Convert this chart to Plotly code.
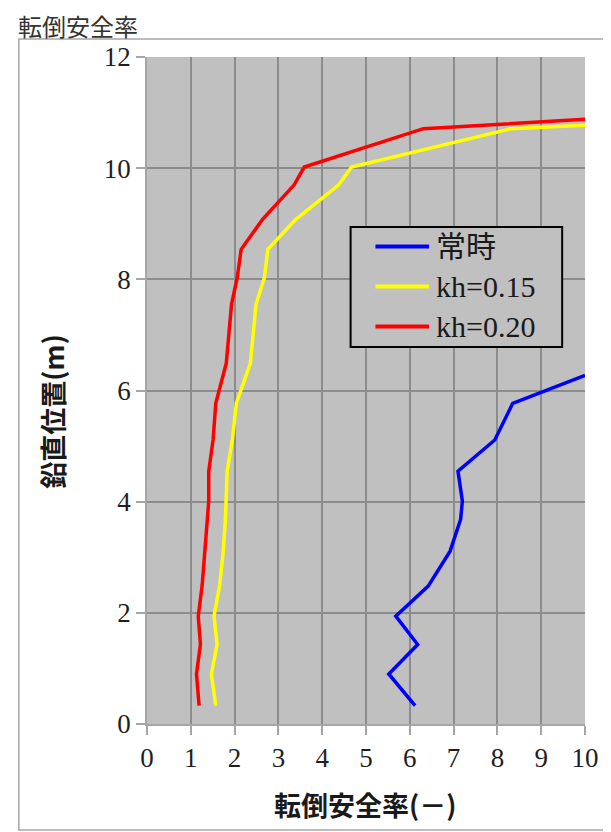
import plotly.graph_objects as go

# 鉛直位置 (m)
depth = [0.33, 0.9, 1.43, 1.94, 2.5, 3.1, 3.68, 4.01, 4.55, 5.12, 5.77, 6.49, 7.55, 8.03, 8.54, 9.08, 9.70, 10.02, 10.71, 10.85]

normal_depth = [0.33, 0.9, 1.43, 1.94, 2.48, 3.11, 3.68, 4.01, 4.55, 5.11, 5.77, 6.27]
normal_fs = [6.12, 5.52, 6.18, 5.68, 6.42, 6.92, 7.16, 7.20, 7.10, 7.94, 8.35, 10.0]

kh015_fs = [1.57, 1.47, 1.60, 1.53, 1.66, 1.74, 1.79, 1.81, 1.83, 1.95, 2.04, 2.36,
            2.49, 2.68, 2.76, 3.40, 4.38, 4.67, 8.31, 10.0]
kh020_fs = [1.19, 1.13, 1.22, 1.17, 1.26, 1.32, 1.38, 1.41, 1.41, 1.51, 1.57, 1.81,
            1.93, 2.06, 2.15, 2.64, 3.36, 3.59, 6.31, 10.0]
kh015_depth = depth[:-1] + [10.77]
kh020_depth = depth[:-1] + [10.88]

names = ["常時", "kh=0.15", "kh=0.20"]
colors = ["#0000FF", "#FFFF00", "#FF0000"]

SERIF = "Liberation Serif, Noto Sans CJK JP"
SANS = "Noto Sans CJK JP"

# plot area in page pixels (the page puts the figure 8px in from the corner)
PX0, PX1, PY0, PY1 = 147, 588, 724, 57


def px(x):
    return (x - PX0) / (PX1 - PX0)


def py(y):
    return (PY0 - y) / (PY0 - PY1)


fig = go.Figure()
for xs, ys, name, color in zip([normal_fs, kh015_fs, kh020_fs],
                               [normal_depth, kh015_depth, kh020_depth], names, colors):
    fig.add_trace(go.Scatter(x=xs, y=ys, mode="lines", name=name,
                             line=dict(color=color, width=3.5)))

axis_common = dict(
    showgrid=True, gridcolor="#8C8C8C", gridwidth=1.5,
    showline=True, linecolor="#A6A6A6", linewidth=1.5,
    ticks="outside", ticklen=9, tickcolor="#A6A6A6", tickwidth=1.5,
    tickfont=dict(family=SERIF, size=27, color="#1f1f1f"),
    zeroline=False, fixedrange=True,
)

fig.update_layout(
    width=603, height=824,
    paper_bgcolor="white", plot_bgcolor="#C0C0C0",
    margin=dict(l=PX0 - 8, r=611 - PX1, t=PY1 - 8, b=832 - PY0),
    xaxis=dict(range=[0, 10], dtick=1, **axis_common),
    yaxis=dict(range=[0, 12], dtick=2, **axis_common),
    showlegend=False,
)

# outer chart frame
fig.add_shape(type="rect", xref="paper", yref="paper",
              x0=px(18), x1=px(620), y0=py(830), y1=py(39),
              line=dict(color="#A6A6A6", width=1.5), layer="below")

# legend box drawn by hand to match the reference proportions
fig.add_shape(type="rect", xref="paper", yref="paper",
              x0=px(352), x1=px(565), y0=py(347), y1=py(227),
              line=dict(color="black", width=2), fillcolor="#C0C0C0")
for i, (name, color) in enumerate(zip(names, colors)):
    yy = py(246.5 + 40 * i)
    fig.add_shape(type="line", xref="paper", yref="paper",
                  x0=px(377), x1=px(431), y0=yy, y1=yy,
                  line=dict(color=color, width=4))
    fig.add_annotation(text=name, xref="paper", yref="paper",
                       x=px(436), y=yy, xanchor="left", yanchor="middle", showarrow=False,
                       font=dict(family=SERIF, size=30, color="#1a1a1a"))

fig.add_annotation(text="転倒安全率", xref="paper", yref="paper",
                   x=px(16), y=py(25), xanchor="left", yanchor="middle", showarrow=False,
                   borderpad=0,
                   font=dict(family=SANS, size=24, color="#333333"))
fig.add_annotation(text="<b>鉛直位置(m)</b>", xref="paper", yref="paper",
                   x=px(51), y=py(412), xanchor="center", yanchor="middle",
                   textangle=-90, showarrow=False,
                   font=dict(family=SANS, size=27, color="#1a1a1a"))
fig.add_annotation(text="<b>転倒安全率(－)</b>", xref="paper", yref="paper",
                   x=px(366), y=py(804), xanchor="center", yanchor="middle", showarrow=False,
                   font=dict(family=SANS, size=27, color="#1a1a1a"))

fig.write_html("out.html")
